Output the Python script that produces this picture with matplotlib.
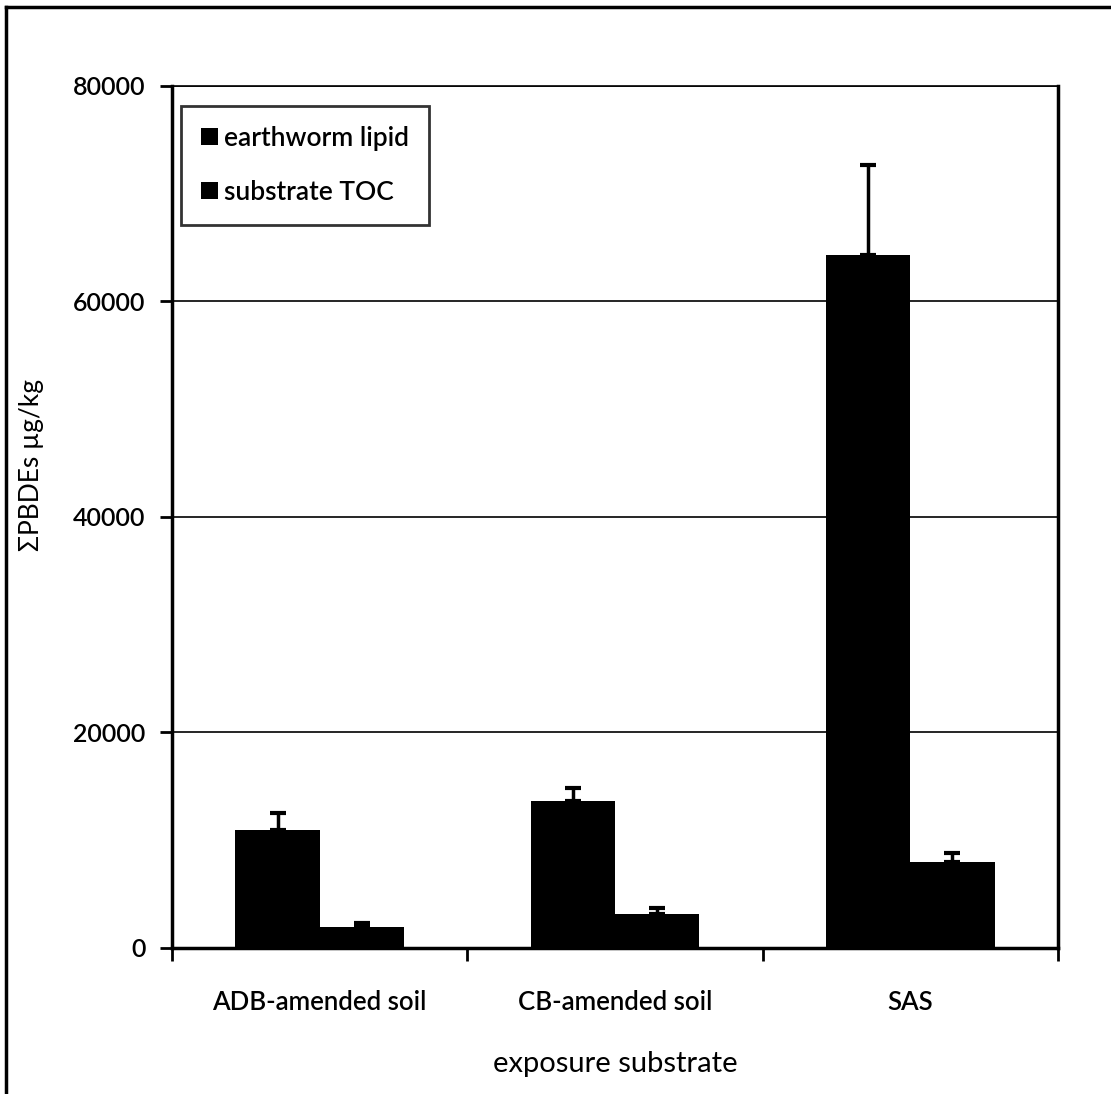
import numpy as np
import matplotlib.pyplot as plt
from matplotlib.lines import Line2D

plt.rcParams['font.family'] = ['Lato', 'DejaVu Sans']
plt.rcParams['font.weight'] = 'semibold'

# data
categories = ['ADB-amended soil', 'CB-amended soil', 'SAS']
lipid = [10950, 13650, 64300]
lipid_err = [1580, 1220, 8400]
toc = [1900, 3150, 7980]
toc_err = [420, 560, 820]
series_names = ['earthworm lipid', 'substrate TOC']

fig = plt.figure(figsize=(11.11, 10.94), dpi=100)
ax = fig.add_axes([0.1548, 0.1335, 0.7975, 0.7879])

x = np.arange(len(categories))
w = 0.285
ekw = dict(ecolor='black', elinewidth=2.5, capsize=6, capthick=3)
ax.bar(x - w/2, lipid, w, color='black', label=series_names[0],
       yerr=[np.zeros(3), lipid_err], error_kw=ekw, zorder=3)
ax.bar(x + w/2, toc, w, color='black', label=series_names[1],
       yerr=[np.zeros(3), toc_err], error_kw=ekw, zorder=3)

ax.set_xlim(-0.5, 2.5)
ax.set_ylim(0, 80000)
ax.set_yticks([0, 20000, 40000, 60000, 80000])
ax.yaxis.grid(True, color='black', linewidth=1.2, zorder=0)
ax.set_axisbelow(True)

ax.set_xticks(x)
ax.set_xticklabels(categories)
ax.set_xticks([-0.5, 0.5, 1.5, 2.5], minor=True)
ax.tick_params(axis='x', which='major', length=0, pad=30, labelsize=18.5)
ax.tick_params(axis='x', which='minor', length=9, width=2, direction='out')
ax.tick_params(axis='y', length=9, width=2, direction='out', pad=10, labelsize=18)

for side in ['left', 'bottom', 'right']:
    ax.spines[side].set_linewidth(2.5)
ax.spines['top'].set_linewidth(1.2)

ax.set_xlabel('exposure substrate', fontsize=21, labelpad=26)
ax.set_ylabel('ΣPBDEs µg/kg', fontsize=19)
ax.yaxis.set_label_coords(-0.145, 0.56)

leg = ax.legend(loc='upper left', bbox_to_anchor=(0.004, 0.983), fontsize=19,
                frameon=True, fancybox=False, edgecolor='black',
                labelspacing=1.1, handlelength=0.65, handleheight=0.65,
                handletextpad=0.25, borderpad=0.75, borderaxespad=0.2)
leg.get_frame().set_linewidth(2)

# outer frame of the scanned figure
fig.add_artist(Line2D([0.005, 0.005], [0.0, 0.994], color='black', lw=2.5,
                      transform=fig.transFigure))
fig.add_artist(Line2D([0.005, 1.0], [0.994, 0.994], color='black', lw=2.5,
                      transform=fig.transFigure))

plt.savefig('out.png', dpi=100)
